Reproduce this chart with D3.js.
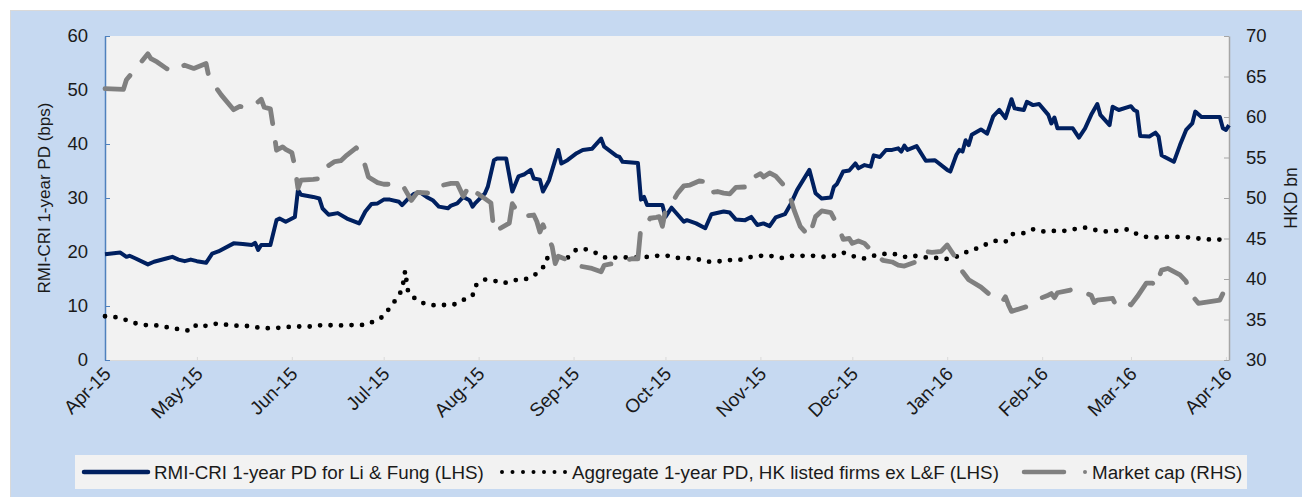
<!DOCTYPE html>
<html>
 <head>
  <title>Li & Fung PD</title>
  <style>
  body { margin: 0; background: #fff; }
  svg { display: block; font-family: Arial, "Liberation Sans", sans-serif; }
  </style>
  <script src="https://cdnjs.cloudflare.com/ajax/libs/d3/7.8.3/d3.min.js"></script>
 </head>
 <body>
  <script>
   // RMI-CRI 1-year PD for Li & Fung, bps (LHS)
   const lfPD = [["2015-04-01",19.6],["2015-04-06",19.9],["2015-04-08",19.1],["2015-04-09",19.3],["2015-04-11",18.8],["2015-04-15",17.7],["2015-04-17",18.2],["2015-04-21",18.8],["2015-04-23",19.1],["2015-04-25",18.6],["2015-04-27",18.3],["2015-04-29",18.6],["2015-05-01",18.3],["2015-05-04",18.0],["2015-05-06",19.7],["2015-05-08",20.1],["2015-05-13",21.6],["2015-05-16",21.5],["2015-05-19",21.3],["2015-05-20",21.7],["2015-05-21",20.4],["2015-05-22",21.3],["2015-05-25",21.3],["2015-05-27",25.9],["2015-05-28",26.2],["2015-05-30",25.6],["2015-06-02",26.5],["2015-06-03",31.5],["2015-06-04",30.6],["2015-06-08",30.2],["2015-06-10",29.9],["2015-06-11",28.1],["2015-06-13",26.9],["2015-06-16",27.2],["2015-06-19",26.2],["2015-06-23",25.3],["2015-06-25",27.5],["2015-06-27",28.9],["2015-06-29",29.0],["2015-07-01",29.7],["2015-07-03",29.7],["2015-07-06",29.3],["2015-07-07",28.7],["2015-07-09",29.9],["2015-07-11",30.8],["2015-07-13",31.0],["2015-07-15",30.2],["2015-07-17",29.6],["2015-07-19",28.4],["2015-07-22",28.1],["2015-07-23",28.6],["2015-07-25",29.0],["2015-07-27",30.2],["2015-07-29",29.6],["2015-07-30",28.4],["2015-07-31",29.1],["2015-08-03",30.8],["2015-08-04",32.1],["2015-08-06",37.0],["2015-08-07",37.3],["2015-08-10",37.3],["2015-08-12",31.2],["2015-08-14",34.0],["2015-08-16",34.4],["2015-08-18",35.2],["2015-08-19",33.6],["2015-08-21",33.4],["2015-08-22",31.2],["2015-08-24",33.3],["2015-08-27",38.9],["2015-08-28",36.4],["2015-08-30",37.0],["2015-09-02",38.3],["2015-09-04",38.9],["2015-09-07",39.1],["2015-09-10",41.0],["2015-09-11",39.5],["2015-09-15",37.8],["2015-09-16",37.6],["2015-09-17",36.7],["2015-09-22",36.5],["2015-09-23",29.7],["2015-09-24",30.2],["2015-09-25",28.7],["2015-09-30",28.7],["2015-10-01",26.5],["2015-10-03",28.2],["2015-10-05",26.9],["2015-10-07",25.6],["2015-10-08",25.9],["2015-10-11",25.3],["2015-10-14",24.4],["2015-10-16",27.0],["2015-10-20",27.5],["2015-10-22",27.3],["2015-10-24",26.0],["2015-10-27",25.9],["2015-10-29",26.5],["2015-10-31",25.0],["2015-11-02",25.3],["2015-11-04",24.8],["2015-11-06",26.4],["2015-11-09",27.0],["2015-11-11",29.0],["2015-11-13",31.5],["2015-11-17",35.2],["2015-11-19",30.9],["2015-11-21",29.9],["2015-11-24",30.1],["2015-11-25",32.1],["2015-11-26",32.6],["2015-11-28",34.9],["2015-11-30",35.1],["2015-12-02",36.4],["2015-12-03",35.5],["2015-12-05",36.1],["2015-12-07",35.8],["2015-12-08",37.9],["2015-12-10",37.6],["2015-12-12",38.9],["2015-12-14",38.9],["2015-12-16",39.2],["2015-12-17",38.6],["2015-12-18",39.7],["2015-12-19",38.9],["2015-12-22",39.6],["2015-12-25",36.9],["2015-12-28",37.0],["2016-01-01",35.2],["2016-01-02",34.9],["2016-01-04",38.0],["2016-01-05",38.9],["2016-01-06",38.6],["2016-01-07",40.7],["2016-01-08",39.8],["2016-01-09",41.7],["2016-01-12",42.7],["2016-01-14",41.9],["2016-01-16",45.1],["2016-01-18",46.3],["2016-01-20",44.8],["2016-01-22",48.3],["2016-01-23",46.6],["2016-01-26",46.3],["2016-01-27",47.8],["2016-01-29",47.2],["2016-01-31",47.4],["2016-02-03",45.4],["2016-02-04",43.8],["2016-02-05",44.9],["2016-02-06",42.9],["2016-02-11",42.9],["2016-02-13",41.2],["2016-02-15",42.9],["2016-02-17",45.4],["2016-02-19",47.4],["2016-02-20",45.4],["2016-02-23",43.5],["2016-02-24",46.9],["2016-02-26",46.3],["2016-03-01",47.0],["2016-03-02",46.3],["2016-03-03",46.0],["2016-03-04",41.5],["2016-03-07",41.4],["2016-03-09",42.1],["2016-03-10",41.4],["2016-03-11",37.9],["2016-03-12",37.6],["2016-03-15",36.7],["2016-03-17",39.8],["2016-03-19",42.6],["2016-03-21",43.8],["2016-03-22",46.0],["2016-03-24",45.0],["2016-03-30",45.0],["2016-03-31",42.9],["2016-04-01",42.6],["2016-04-02",43.5]];

   // Aggregate 1-year PD, HK listed firms ex L&F, bps (LHS)
   const aggPD = [["2015-04-01",8.1],["2015-04-05",7.9],["2015-04-08",7.4],["2015-04-11",6.8],["2015-04-15",6.4],["2015-04-18",6.4],["2015-04-22",6.0],["2015-04-25",5.7],["2015-04-29",5.4],["2015-05-01",6.6],["2015-05-04",6.3],["2015-05-08",6.8],["2015-05-11",6.5],["2015-05-15",6.3],["2015-05-18",6.3],["2015-05-22",5.9],["2015-05-25",5.9],["2015-05-29",6.0],["2015-06-01",6.2],["2015-06-04",6.2],["2015-06-08",6.2],["2015-06-11",6.5],["2015-06-15",6.4],["2015-06-18",6.4],["2015-06-22",6.5],["2015-06-25",6.5],["2015-06-28",7.2],["2015-07-01",8.1],["2015-07-03",9.7],["2015-07-05",11.2],["2015-07-07",13.0],["2015-07-08",16.5],["2015-07-09",12.5],["2015-07-12",11.0],["2015-07-15",10.3],["2015-07-18",10.1],["2015-07-21",10.2],["2015-07-24",10.3],["2015-07-28",11.4],["2015-07-30",11.9],["2015-07-31",13.8],["2015-08-03",14.9],["2015-08-06",14.7],["2015-08-09",14.2],["2015-08-13",14.8],["2015-08-16",14.9],["2015-08-19",15.6],["2015-08-22",17.1],["2015-08-23",18.8],["2015-08-26",19.1],["2015-08-30",18.9],["2015-09-02",20.5],["2015-09-05",20.5],["2015-09-08",19.9],["2015-09-12",18.8],["2015-09-15",19.0],["2015-09-18",19.0],["2015-09-21",19.0],["2015-09-25",19.1],["2015-09-28",19.3],["2015-10-02",19.3],["2015-10-05",18.9],["2015-10-08",18.9],["2015-10-12",18.6],["2015-10-15",18.2],["2015-10-19",18.3],["2015-10-22",18.5],["2015-10-25",18.5],["2015-10-29",19.1],["2015-11-01",19.3],["2015-11-04",19.3],["2015-11-08",18.9],["2015-11-11",19.3],["2015-11-15",19.3],["2015-11-18",19.3],["2015-11-22",19.1],["2015-11-25",19.3],["2015-11-28",19.9],["2015-12-02",19.1],["2015-12-05",18.8],["2015-12-08",19.3],["2015-12-12",19.7],["2015-12-15",19.6],["2015-12-19",19.0],["2015-12-22",19.3],["2015-12-26",18.9],["2015-12-29",18.9],["2016-01-01",18.7],["2016-01-05",19.3],["2016-01-08",20.2],["2016-01-11",20.7],["2016-01-14",21.5],["2016-01-17",22.1],["2016-01-20",21.9],["2016-01-22",23.3],["2016-01-26",23.5],["2016-01-29",24.2],["2016-02-01",23.8],["2016-02-05",23.9],["2016-02-08",23.9],["2016-02-11",24.2],["2016-02-15",24.5],["2016-02-18",24.1],["2016-02-22",23.8],["2016-02-25",23.9],["2016-02-29",24.2],["2016-03-03",23.3],["2016-03-06",22.8],["2016-03-09",22.7],["2016-03-13",22.8],["2016-03-16",22.8],["2016-03-20",22.7],["2016-03-23",22.5],["2016-03-27",22.3],["2016-03-30",22.3],["2016-04-01",22.3]];

   // Market cap, HKD bn (RHS)
   const marketCap = [["2015-04-01",63.5],["2015-04-07",63.4],["2015-04-08",64.6],["2015-04-10",65.5],["2015-04-15",67.8],["2015-04-16",67.2],["2015-04-18",66.8],["2015-04-21",66.0],["2015-04-23",65.6],["2015-04-27",66.4],["2015-04-30",66.0],["2015-05-04",66.6],["2015-05-05",64.8],["2015-05-09",62.7],["2015-05-13",60.9],["2015-05-15",61.3],["2015-05-19",61.2],["2015-05-22",62.2],["2015-05-23",61.2],["2015-05-25",61.0],["2015-05-26",58.6],["2015-05-27",55.9],["2015-05-29",56.3],["2015-05-30",56.0],["2015-06-01",55.6],["2015-06-02",53.9],["2015-06-03",51.2],["2015-06-04",52.2],["2015-06-08",52.3],["2015-06-10",52.4],["2015-06-11",53.5],["2015-06-15",54.5],["2015-06-17",54.6],["2015-06-19",55.3],["2015-06-22",56.2],["2015-06-24",55.2],["2015-06-26",52.6],["2015-06-29",51.9],["2015-07-01",51.7],["2015-07-07",51.7],["2015-07-10",49.7],["2015-07-12",50.7],["2015-07-16",50.6],["2015-07-18",51.4],["2015-07-23",51.8],["2015-07-25",51.8],["2015-07-27",50.2],["2015-07-29",51.6],["2015-07-30",51.0],["2015-08-02",50.2],["2015-08-05",49.4],["2015-08-06",45.8],["2015-08-11",46.9],["2015-08-12",49.3],["2015-08-14",48.1],["2015-08-15",47.7],["2015-08-19",47.9],["2015-08-20",47.1],["2015-08-21",45.8],["2015-08-22",46.7],["2015-08-25",44.0],["2015-08-26",41.9],["2015-08-27",42.8],["2015-08-29",42.5],["2015-09-03",41.6],["2015-09-07",41.3],["2015-09-10",40.9],["2015-09-11",41.7],["2015-09-15",42.0],["2015-09-20",42.5],["2015-09-22",42.5],["2015-09-23",46.5],["2015-09-25",46.9],["2015-09-26",47.5],["2015-09-28",47.6],["2015-09-29",47.7],["2015-09-30",46.5],["2015-10-01",48.5],["2015-10-03",49.3],["2015-10-05",50.6],["2015-10-07",51.5],["2015-10-09",51.6],["2015-10-12",52.1],["2015-10-15",52.0],["2015-10-16",50.7],["2015-10-18",50.8],["2015-10-20",50.6],["2015-10-22",50.5],["2015-10-24",51.3],["2015-10-29",51.4],["2015-10-30",52.6],["2015-11-01",53.0],["2015-11-02",52.6],["2015-11-04",53.1],["2015-11-06",52.7],["2015-11-10",51.0],["2015-11-12",48.5],["2015-11-14",46.5],["2015-11-17",45.2],["2015-11-18",46.5],["2015-11-19",47.7],["2015-11-21",48.4],["2015-11-24",48.2],["2015-11-27",46.0],["2015-11-28",44.9],["2015-11-30",45.0],["2015-12-01",44.4],["2015-12-03",44.7],["2015-12-05",44.4],["2015-12-08",43.2],["2015-12-11",42.3],["2015-12-14",42.1],["2015-12-16",41.7],["2015-12-18",41.6],["2015-12-23",42.3],["2015-12-25",43.4],["2015-12-27",43.3],["2015-12-30",43.4],["2016-01-01",44.2],["2016-01-05",41.9],["2016-01-06",40.9],["2016-01-08",39.9],["2016-01-12",39.0],["2016-01-16",37.7],["2016-01-19",37.2],["2016-01-20",37.8],["2016-01-21",36.8],["2016-01-22",36.0],["2016-01-27",36.6],["2016-01-30",37.4],["2016-02-03",38.0],["2016-02-04",38.2],["2016-02-05",37.7],["2016-02-06",38.3],["2016-02-11",38.7],["2016-02-12",38.6],["2016-02-14",38.4],["2016-02-17",38.0],["2016-02-18",37.1],["2016-02-19",37.4],["2016-02-24",37.6],["2016-02-25",36.8],["2016-02-28",37.2],["2016-03-01",36.8],["2016-03-03",37.8],["2016-03-06",39.5],["2016-03-08",39.5],["2016-03-09",39.0],["2016-03-10",40.1],["2016-03-11",41.1],["2016-03-13",41.3],["2016-03-17",40.5],["2016-03-19",39.7],["2016-03-20",38.4],["2016-03-23",37.0],["2016-03-30",37.4],["2016-03-31",38.2],["2016-04-02",38.0]];

   const leftTicks = [0, 10, 20, 30, 40, 50, 60];
   const rightTicks = [30, 35, 40, 45, 50, 55, 60, 65, 70];
   const legendLabels = ["RMI-CRI 1-year PD for Li & Fung (LHS)",
                         "Aggregate 1-year PD, HK listed firms ex L&F (LHS)",
                         "Market cap (RHS)"];

   const w = 1302, h = 497;
   const plotL = 105, plotR = 1229, plotT = 36, plotB = 360;
   const parse = d3.timeParse("%Y-%m-%d");

   const svg = d3.select("body").append("svg")
                 .attr("width", w)
                 .attr("height", h);

   // background panels
   svg.append("rect").attr("x", 10).attr("y", 10).attr("width", w - 10).attr("height", h - 10)
      .attr("fill", "#c6d9f1");
   svg.append("line").attr("x1", 10).attr("x2", w).attr("y1", 10.5).attr("y2", 10.5)
      .attr("stroke", "#d9d9d9");
   svg.append("line").attr("x1", 10.5).attr("x2", 10.5).attr("y1", 10).attr("y2", h)
      .attr("stroke", "#d9d9d9");
   svg.append("rect").attr("x", plotL).attr("y", plotT)
      .attr("width", plotR - plotL).attr("height", plotB - plotT)
      .attr("fill", "#f2f2f2");

   const x = d3.scaleTime()
               .domain([parse("2015-04-01"), parse("2016-04-02")])
               .range([plotL, plotR]);
   const yL = d3.scaleLinear().domain([0, 60]).range([plotB, plotT]);
   const yR = d3.scaleLinear().domain([30, 70]).range([plotB, plotT]);

   // x axis
   const months = d3.timeMonth.range(parse("2015-04-01"), parse("2016-04-02"));
   const xAxis = svg.append("g")
                    .attr("transform", "translate(0," + plotB + ")")
                    .call(d3.axisBottom(x).tickValues(months).tickSize(-3).tickSizeOuter(0).tickFormat(""));
   xAxis.select(".domain").attr("stroke", "#d9d9d9");
   xAxis.selectAll(".tick line").attr("stroke", "#d9d9d9");
   svg.append("g").selectAll("text")
      .data(months)
      .enter()
      .append("text")
      .attr("transform", d => "translate(" + (x(d) + 7) + "," + (plotB + 15) + ") rotate(-45)")
      .attr("text-anchor", "end")
      .attr("font-size", 19)
      .attr("fill", "#1a1a1a")
      .text(d3.timeFormat("%b-%y"));

   // left axis
   const gL = svg.append("g")
                 .attr("transform", "translate(" + plotL + ",0)")
                 .call(d3.axisLeft(yL).tickValues(leftTicks).tickSize(-5).tickSizeOuter(0).tickPadding(17));
   gL.select(".domain").attr("stroke", "#4f81bd").attr("stroke-width", 1.5);
   gL.selectAll(".tick line").attr("stroke", "#4f81bd");
   gL.selectAll(".tick text").attr("x", -17).attr("text-anchor", "end")
     .attr("font-size", 18.5).attr("fill", "#1a1a1a").attr("font-family", null);

   // right axis
   const gR = svg.append("g")
                 .attr("transform", "translate(" + plotR + ",0)")
                 .call(d3.axisRight(yR).tickValues(rightTicks).tickSize(-5).tickSizeOuter(0).tickPadding(17));
   gR.select(".domain").attr("stroke", "#a6a6a6").attr("stroke-width", 1.5);
   gR.selectAll(".tick line").attr("stroke", "#a6a6a6");
   gR.selectAll(".tick text").attr("x", 17).attr("text-anchor", "start")
     .attr("font-size", 18.5).attr("fill", "#1a1a1a").attr("font-family", null);

   // axis titles
   svg.append("text")
      .attr("transform", "translate(50," + ((plotT + plotB) / 2) + ") rotate(-90)")
      .attr("text-anchor", "middle")
      .attr("font-size", 17)
      .attr("fill", "#1a1a1a")
      .text("RMI-CRI 1-year PD (bps)");
   svg.append("text")
      .attr("transform", "translate(1297," + ((plotT + plotB) / 2) + ") rotate(-90)")
      .attr("text-anchor", "middle")
      .attr("font-size", 17.5)
      .attr("fill", "#1a1a1a")
      .text("HKD bn");

   // lines
   const lineL = d3.line().x(d => x(parse(d[0]))).y(d => yL(d[1]));
   const lineR = d3.line().x(d => x(parse(d[0]))).y(d => yR(d[1]));

   svg.append("path")
      .attr("d", lineL(lfPD))
      .attr("fill", "none")
      .attr("stroke", "#002060")
      .attr("stroke-width", 4)
      .attr("stroke-linejoin", "round");
   svg.append("path")
      .attr("d", lineL(aggPD))
      .attr("fill", "none")
      .attr("stroke", "#000")
      .attr("stroke-width", 4.8)
      .attr("stroke-linecap", "round")
      .attr("stroke-dasharray", "0,10.5");
   svg.append("path")
      .attr("d", lineR(marketCap))
      .attr("fill", "none")
      .attr("stroke", "#808080")
      .attr("stroke-width", 4.8)
      .attr("stroke-linecap", "round")
      .attr("stroke-linejoin", "round")
      .attr("stroke-dasharray", "34,19");

   // legend
   const lg = svg.append("g").attr("id", "legend");
   lg.append("rect").attr("x", 75).attr("y", 455).attr("width", 1172).attr("height", 34)
     .attr("fill", "#f2f2f2");
   lg.append("line").attr("x1", 84).attr("x2", 148).attr("y1", 472).attr("y2", 472)
     .attr("stroke", "#002060").attr("stroke-width", 4.5).attr("stroke-linecap", "round");
   lg.append("line").attr("x1", 502).attr("x2", 566).attr("y1", 472).attr("y2", 472)
     .attr("stroke", "#000").attr("stroke-width", 4).attr("stroke-linecap", "round")
     .attr("stroke-dasharray", "0,10.5");
   lg.append("line").attr("x1", 1024).attr("x2", 1064).attr("y1", 472).attr("y2", 472)
     .attr("stroke", "#808080").attr("stroke-width", 4.5).attr("stroke-linecap", "round");
   lg.append("circle").attr("cx", 1085).attr("cy", 472).attr("r", 2)
     .attr("fill", "#808080");
   lg.selectAll("text")
     .data(legendLabels)
     .enter()
     .append("text")
     .attr("x", (d, i) => [154, 572, 1092][i])
     .attr("y", 478.5)
     .attr("font-size", 18.8)
     .attr("fill", "#1a1a1a")
     .text(d => d);
  </script>
 </body>
</html>
